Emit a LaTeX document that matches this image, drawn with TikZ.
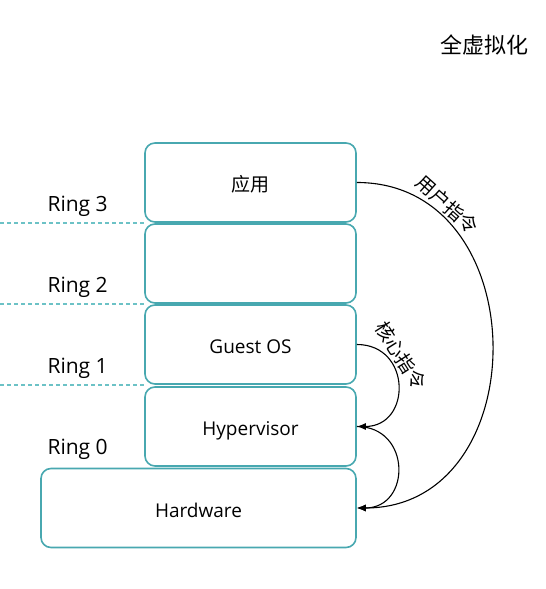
\documentclass[tikz,border=0pt]{standalone}
\usepackage{fontspec}
\setmainfont{Open Sans}
\newfontfamily\cjk{Noto Sans CJK SC}
\usetikzlibrary{calc,arrows.meta}
\definecolor{layerc}{RGB}{72,168,176}
\definecolor{ringc}{RGB}{108,194,198}

\begin{document}
\begin{tikzpicture}[x=1pt, y=1pt, >={Latex[length=9pt,width=7pt]},
        layer/.style={draw=layerc, line width=1.6pt, rounded corners=10pt, minimum height=79pt, inner sep=0pt, text height=19pt, text depth=0pt, font=\fontsize{19}{21}\selectfont},
        ringline/.style={ringc, line width=1.3pt, dash pattern=on 4pt off 3pt},
        ringlabel/.style={right, font=\fontsize{21}{23}\selectfont},
        instr/.style={->, line width=1.1pt},
        instrlabel/.style={sloped, above, inner sep=2pt, font=\cjk\fontsize{19}{21}\selectfont}]
        \useasboundingbox (0,0) rectangle (546,589);
        \coordinate (r3) at (0,366);
        \coordinate (r2) at (0,285);
        \coordinate (r1) at (0,204);
        \coordinate (r0) at (0,123);
        \node [layer, minimum width=211pt] (app) at (250.5,406.5) {\cjk 应用};
        \node [layer, minimum width=211pt] (empty) at (250.5,325.5) {};
        \node [layer, minimum width=211pt] (guest) at (250.5,244.5) {Guest OS};
        \node [layer, minimum width=211pt] (hyper) at (250.5,162.5) {Hypervisor};
        \node [layer, minimum width=315pt] (hard) at (198.5,81) {Hardware};
        \draw [ringline] (r3) -- (r3 -| app.west);
        \draw [ringline] (r2) -- (r2 -| app.west);
        \draw [ringline] (r1) -- (r1 -| app.west);
        \node [ringlabel] (ring3) at ($ (r3) + (44,16.5) $) {Ring 3};
        \node [ringlabel] (ring2) at ($ (r2) + (44,16.5) $) {Ring 2};
        \node [ringlabel] (ring1) at ($ (r1) + (44,16.5) $) {Ring 1};
        \node [ringlabel] (ring0) at ($ (r0) + (44,16.5) $) {Ring 0};
        \node [font=\cjk\fontsize{22}{24}\selectfont] (title) at (484,544) {全虚拟化};
        \draw [instr] (app.east) to [out=0, in=0, looseness=1.42] node [instrlabel, pos=0.19] {用户指令} (hard.east);
        \draw [instr] (guest.east) to [out=0, in=0, looseness=1.72] node [instrlabel, pos=0.3] {核心指令} (hyper.east);
        \draw [instr] (hyper.east) to [out=0, in=0, looseness=1.72] (hard.east);
\end{tikzpicture}
\end{document}
